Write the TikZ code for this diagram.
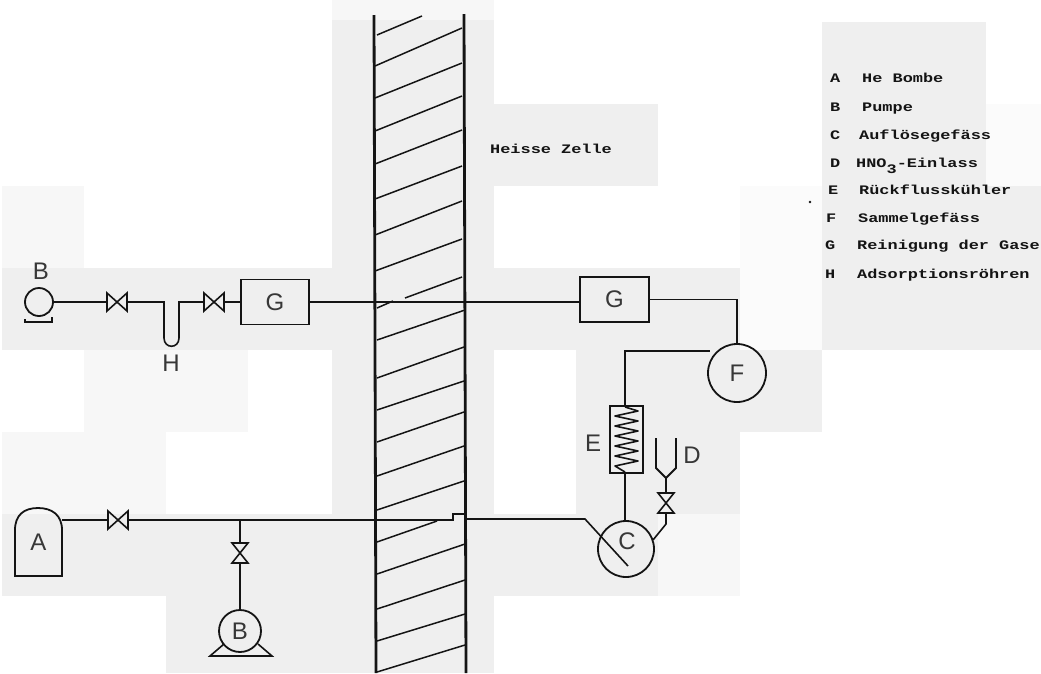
\documentclass[tikz,border=0pt]{standalone}
\usepackage{fontspec}
\setmainfont{Liberation Sans}
\newfontfamily\typew[FakeStretch=1.3]{Liberation Mono Bold}
\definecolor{patchA}{HTML}{EFEFEF}
\definecolor{patchB}{HTML}{F7F7F7}
\definecolor{patchC}{HTML}{FBFBFB}
\definecolor{inkc}{HTML}{141414}
\tikzset{
  x=1pt,y=-1pt,
  pipe/.style={draw=inkc,line width=1.6pt},
  wallline/.style={draw=inkc,line width=2.8pt},
  hatch/.style={draw=inkc,line width=1.5pt},
  plain/.style={inner sep=0pt,font=\fontsize{24}{24}\selectfont,text=inkc!85},
  boxn/.style={draw=inkc,line width=1.8pt,rectangle,inner sep=0pt,font=\fontsize{24}{24}\selectfont,text=inkc!85},
  circn/.style={draw=inkc,line width=1.8pt,circle,inner sep=0pt,font=\fontsize{24}{24}\selectfont,text=inkc!85},
  ghost/.style={inner sep=0pt,outer sep=0pt,rectangle,font=\fontsize{24}{24}\selectfont,text=inkc!85},
  hvalve/.style={ghost,minimum width=20pt,minimum height=18pt},
  vvalve/.style={ghost,minimum width=16pt,minimum height=20pt},
  legend/.style={inner sep=0pt,anchor=base west,text=inkc,font=\typew\fontsize{13}{13}\selectfont},
}
\begin{document}
\begin{tikzpicture}
\useasboundingbox (0,0) rectangle (1041,673);
% scan patches
\fill[white] (0,0) rectangle (1041,673);
\fill[patchB] (2,186) rectangle (84,268);
\fill[patchA] (2,268) rectangle (332,350);
\fill[patchB] (84,350) rectangle (248,432);
\fill[patchB] (2,432) rectangle (166,514);
\fill[patchA] (2,514) rectangle (166,596);
\fill[patchA] (166,514) rectangle (332,673);
\fill[patchB] (332,0) rectangle (494,20);
\fill[patchA] (332,20) rectangle (494,673);
\fill[patchA] (494,104) rectangle (658,186);
\fill[patchA] (494,268) rectangle (740,350);
\fill[patchC] (740,186) rectangle (822,350);
\fill[patchA] (576,350) rectangle (822,432);
\fill[patchA] (576,432) rectangle (740,514);
\fill[patchA] (494,514) rectangle (658,596);
\fill[patchB] (658,514) rectangle (740,596);
\fill[patchA] (822,22) rectangle (986,104);
\fill[patchC] (986,104) rectangle (1041,186);
\fill[patchA] (822,104) rectangle (986,186);
\fill[patchA] (822,186) rectangle (1041,350);
% wall
\draw[wallline] (374,15) -- (376,673);
\draw[wallline] (464,14) -- (466,673);
\foreach \xa/\ya/\xb/\yb in {377/35/422/16,375/66/462/28,375/98/462/63,375/131/462/96,375/164/462/130,375/199/462/166,375/235/462/201,375/271/462/239,377/308/393/301,405/298/462/277,377/340/465/310,377/378/464/347,377/410/464/381,377/442/464/412,377/476/464/446,377/510/464/481,377/542/437/521,377/574/465/544,377/609/465/580,377/641/465/614,377/672/465/645}
  \draw[hatch] (\xa,\ya) -- (\xb,\yb);
% upper line
\node[circn,minimum size=28pt] (pb1) at (39,302) {};
\node[plain] (lb1) at (41,271) {B};
\node[hvalve] (v1) at (117,302) {};
\node[hvalve] (v2) at (214,302) {};
\node[boxn,minimum width=68pt,minimum height=45pt] (g1) at (275,302) {G};
\node[boxn,minimum width=69pt,minimum height=45pt] (g2) at (614.5,299.5) {G};
\node[circn,minimum size=58pt] (f) at (737,373) {F};
\node[plain] (lh) at (171,363) {H};
\coordinate (ul) at (164,302);
\coordinate (ur) at (179,302);
\draw[pipe] (pb1) -- (v1);
\draw[pipe] (v1) -- (ul) -- (164,338) .. controls (164,349) and (179,349) .. (179,338) -- (ur) -- (v2);
\draw[pipe] (v2) -- (g1);
\draw[pipe] (g1.east) -- (g2.west |- g1.east);
\draw[pipe] (g2.east) -| (f.north);
\draw[pipe] (25,319) -- (25,322) -- (52,322) -- (52,317);
% lower line
\node[ghost,minimum width=47pt,minimum height=68pt] (a) at (38.5,542) {\raisebox{-3pt}{A}};
\draw[pipe,line width=1.8pt] (a.south west) -- (15,530) .. controls (15,515) and (24,508) .. (38,508) .. controls (52,508) and (62,515) .. (62,530) -- (a.south east) -- cycle;
\node[hvalve] (v3) at (118,520) {};
\coordinate (tee) at (240,520);
\node[vvalve] (v4) at (240,553) {};
\node[circn,minimum size=42pt] (pb2) at (240,631) {B};
\draw[pipe] (a.east |- v3) -- (v3);
\draw[pipe] (v3) -- (tee);
\draw[pipe] (tee) -- (v4);
\draw[pipe] (v4) -- (pb2);
\coordinate (fl) at (210,656);
\coordinate (fr) at (272,656);
\draw[pipe] (224,644) -- (fl) -- (fr) -- (258,644);
% right side
\node[circn,minimum size=56pt] (c) at (626,549) {};
\node[plain] (lc) at (627,541) {C};
\coordinate (cin) at (585,519);
\coordinate (cend) at (628,566);
\draw[pipe] (tee) -- (453,520) -- (453,514) -- (465,514) -- (465,519) -- (cin) -- (cend);
\node[boxn,minimum width=33pt,minimum height=67pt] (e) at (626.5,439.5) {};
\node[plain] (le) at (593,443) {E};
\node[plain] (ld) at (692,455) {D};
\draw[pipe] (625,406) -- (625,351) -- (710,351);
\draw[pipe] (625,473) -- (625,521);
\draw[pipe,line join=round] (625,407) -- (638,411) -- (615,416) -- (638,421) -- (615,426) -- (638,431) -- (615,436) -- (638,441) -- (615,446) -- (638,451) -- (615,456) -- (638,461) -- (615,466) -- (625,472);
\node[vvalve] (v5) at (666,503) {};
\coordinate (fun) at (666,478);
\draw[pipe,line width=1.9pt] (656,438) -- (656,468) -- (fun) -- (676,468) -- (676,438);
\draw[pipe,line width=1.9pt] (fun) -- (v5);
\draw[pipe] (v5) -- (666,524) -- (653,540);
% valve symbols
\foreach \n in {v1,v2,v3}
  \draw[pipe,fill=patchA] (\n.north west) -- (\n.south east) -- (\n.north east) -- (\n.south west) -- cycle;
\foreach \n in {v4,v5}
  \draw[pipe,fill=patchA] (\n.north west) -- (\n.south east) -- (\n.south west) -- (\n.north east) -- cycle;
% texts
\node[legend] (hz) at (490,153) {Heisse Zelle};
\node[legend] (la) at (830,82) {A};
\node[legend] (ta) at (862,82) {He Bombe};
\node[legend] (lb) at (830,111) {B};
\node[legend] (tb) at (862,111) {Pumpe};
\node[legend] (lc2) at (830,139) {C};
\node[legend] (tc) at (859,139) {Auflösegefäss};
\node[legend] (ld2) at (830,167) {D};
\node[legend] (td) at (856,167) {HNO\raisebox{-6pt}{3}-Einlass};
\node[legend] (le2) at (828,194) {E};
\node[legend] (te) at (859,194) {Rückflusskühler};
\node[legend] (lf) at (826,222) {F};
\node[legend] (tf) at (858,222) {Sammelgefäss};
\node[legend] (lg) at (825,249) {G};
\node[legend] (tg) at (857,249) {Reinigung der Gase};
\node[legend] (lh2) at (825,278) {H};
\node[legend] (th) at (857,278) {Adsorptionsröhren};
\fill[inkc] (810,202) circle (1.3pt);
\end{tikzpicture}
\end{document}
